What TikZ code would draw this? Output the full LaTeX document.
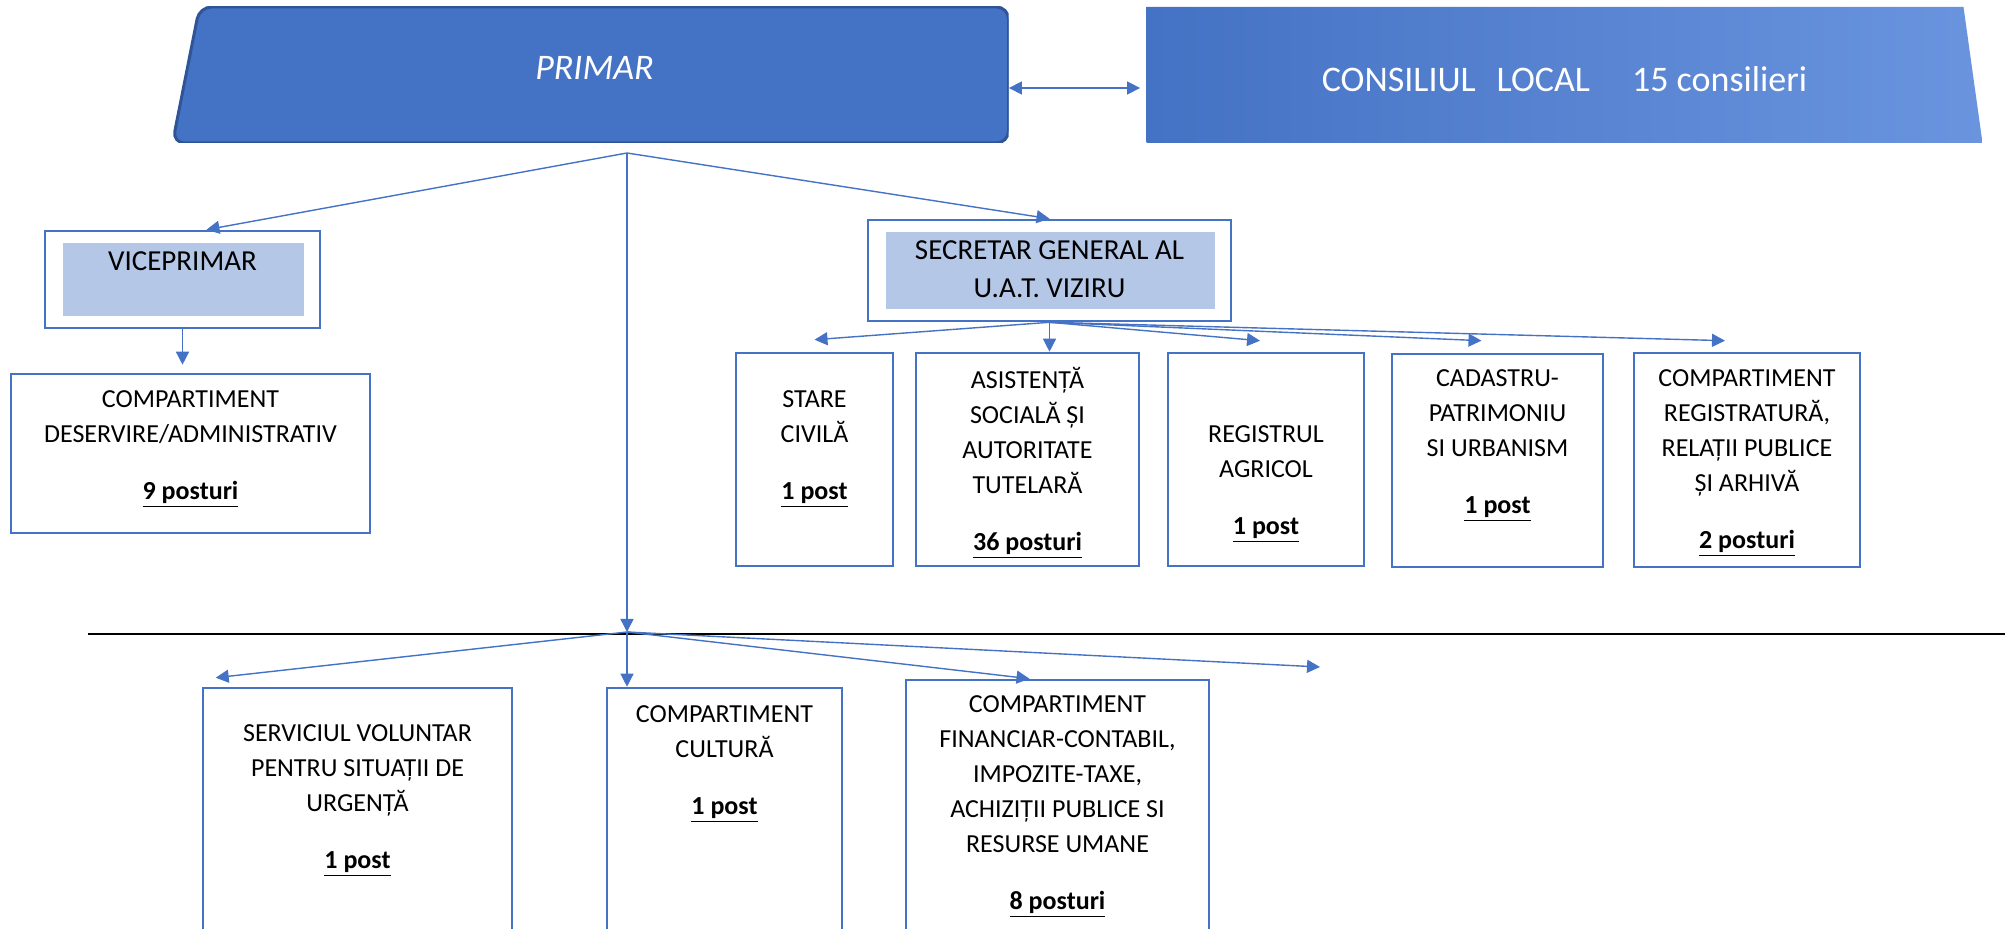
\documentclass[tikz,border=0pt]{standalone}
\usepackage{fontspec}
\setmainfont{Carlito}
\usetikzlibrary{arrows.meta}

\definecolor{lineblue}{RGB}{68,114,196}
\definecolor{darkblue}{RGB}{47,85,151}
\definecolor{lightfill}{RGB}{180,199,231}
\definecolor{paleblue}{RGB}{106,148,222}

\newcommand{\nrpost}[1]{\underline{\textbf{#1}}}

\tikzset{
  >={Triangle[length=6.5pt,width=6.5pt]},
  conn/.style={draw=lineblue, line width=0.7pt, ->},
  box/.style={shape=rectangle, draw=lineblue, line width=1.3pt, inner sep=0pt},
  boxtext/.style={align=center, font=\fontsize{13}{17.5}\selectfont, inner sep=0pt},
  headtext/.style={align=center, font=\fontsize{14.5}{19}\selectfont, inner sep=0pt},
  headbox/.style={box, path picture={\fill[lightfill] ([shift={(9pt,-6pt)}]path picture bounding box.north west) rectangle ([shift={(-8pt,6pt)}]path picture bounding box.south east);}},
  toptext/.style={text=white, font=\fontsize{18}{22}\selectfont, inner sep=0pt},
  topbox/.style={shape=rectangle, inner sep=0pt, minimum width=418pt, minimum height=68pt}
}

\begin{document}
\begin{tikzpicture}[x=0.5pt,y=-0.5pt]
        \useasboundingbox (0,0) rectangle (2013,929);
        \clip (0,0) rectangle (2013,929);

        % top
        \node[topbox, path picture={\filldraw[fill=lineblue, draw=darkblue, line width=1.5pt, rounded corners=6pt] ([xshift=13.5pt]path picture bounding box.north west) -- (path picture bounding box.north east) -- (path picture bounding box.south east) -- (path picture bounding box.south west) -- cycle;}, label={[toptext, xshift=2pt, yshift=3.5pt]center:\textit{PRIMAR}}] (primar) at (590.5,75) {};
        \node[topbox, path picture={\shade[left color=lineblue, right color=paleblue] (path picture bounding box.north west) -- ([xshift=-9.5pt]path picture bounding box.north east) -- (path picture bounding box.south east) -- (path picture bounding box.south west) -- cycle;}, label={[toptext, yshift=-2pt]center:CONSILIUL\hspace{0.58em}LOCAL\hspace{1.17em}15 consilieri}] (consiliu) at (1564.5,75) {};

        \coordinate (fork1) at (627,153);
        \coordinate (fork2) at (627,632);
        \coordinate (sepL) at (88,634);
        \coordinate (sepR) at (2005,634);
        \coordinate (freeend) at (1320,667);

        \node[headbox, minimum width=137.5pt, minimum height=48.5pt, label={[headtext, yshift=9.25pt]center:VICEPRIMAR}] (vice) at (182.5,279.5) {};
        \node[headbox, minimum width=181.5pt, minimum height=50.5pt, label={[headtext, yshift=0.75pt]center:{SECRETAR GENERAL AL\\U.A.T. VIZIRU}}] (sec) at (1049.5,270.5) {};

        \node[box, minimum width=179.5pt, minimum height=79.5pt, label={[boxtext, yshift=2.25pt]center:{COMPARTIMENT\\DESERVIRE/ADMINISTRATIV\\[11pt]\nrpost{9 posturi}}}] (deservire) at (190.5,453.5) {};

        % compartimente secretar
        \node[box, minimum width=78.5pt, minimum height=106.5pt, label={[boxtext, yshift=5.25pt]center:{STARE\\CIVILĂ\\[11pt]\nrpost{1 post}}}] (stare) at (814.5,459.5) {};
        \node[box, minimum width=111.5pt, minimum height=106.5pt, label={[boxtext, yshift=-1.75pt]center:{ASISTENȚĂ\\SOCIALĂ ȘI\\AUTORITATE\\TUTELARĂ\\[11pt]\nrpost{36 posturi}}}] (asist) at (1027.5,459.5) {};
        \node[box, minimum width=98pt, minimum height=106.5pt, label={[boxtext, yshift=-12.25pt]center:{REGISTRUL\\AGRICOL\\[11pt]\nrpost{1 post}}}] (registru) at (1266,459.5) {};
        \node[box, minimum width=105.5pt, minimum height=106.5pt, label={[boxtext, yshift=7.25pt]center:{CADASTRU-\\PATRIMONIU\\SI URBANISM\\[11pt]\nrpost{1 post}}}] (cadastru) at (1497.5,460.5) {};
        \node[box, minimum width=113pt, minimum height=107pt, label={[boxtext, yshift=-1.75pt]center:{COMPARTIMENT\\REGISTRATURĂ,\\RELAȚII PUBLICE\\ȘI ARHIVĂ\\[11pt]\nrpost{2 posturi}}}] (registratura) at (1747,460) {};

        % sub linie
        \node[box, minimum width=154.5pt, minimum height=136pt, label={[boxtext, yshift=11.5pt]center:{SERVICIUL VOLUNTAR\\PENTRU SITUAȚII DE\\URGENȚĂ\\[11pt]\nrpost{1 post}}}] (servic) at (357.5,824) {};
        \node[box, minimum width=117.5pt, minimum height=136pt, label={[boxtext, yshift=30pt]center:{COMPARTIMENT\\CULTURĂ\\[11pt]\nrpost{1 post}}}] (cultura) at (724.5,824) {};
        \node[box, minimum width=151.5pt, minimum height=140pt, label={[boxtext, yshift=6.5pt]center:{COMPARTIMENT\\FINANCIAR-CONTABIL,\\IMPOZITE-TAXE,\\ACHIZIȚII PUBLICE SI\\RESURSE UMANE\\[11pt]\nrpost{8 posturi}}}] (financiar) at (1057.5,820) {};

        \draw[conn, <->, shorten >=3pt] ([yshift=-6.5pt]primar.east) -- ([yshift=-6.5pt]consiliu.west);

	\draw[conn] (fork1) -- ([xshift=12pt]vice.north);
	\draw[conn] (fork1) -- (sec.north);
	\draw[conn] (fork1) -- (fork2);
	\draw[conn, shorten >=4pt] (vice.south) -- (vice.south |- deservire.north);

	\draw[conn] (sec.south) -- ([yshift=6pt]stare.north);
	\draw[conn] (sec.south) -- (sec.south |- asist.north);
	\draw[conn] (sec.south) -- ([xshift=-3pt,yshift=5.5pt]registru.north);
	\draw[conn] (sec.south) -- ([xshift=-8pt,yshift=6pt]cadastru.north);
	\draw[conn] (sec.south) -- ([xshift=-11pt,yshift=5.5pt]registratura.north);

	\draw[line width=1.2pt] (sepL) -- (sepR);

	\draw[conn] (fork2) -- ([xshift=7pt,yshift=4.5pt]servic.north west);
	\draw[conn] (fork2) -- (fork2 |- cultura.north);
	\draw[conn] (fork2) -- ([xshift=-14pt]financiar.north);
	\draw[conn] (fork2) -- (freeend);
\end{tikzpicture}
\end{document}
